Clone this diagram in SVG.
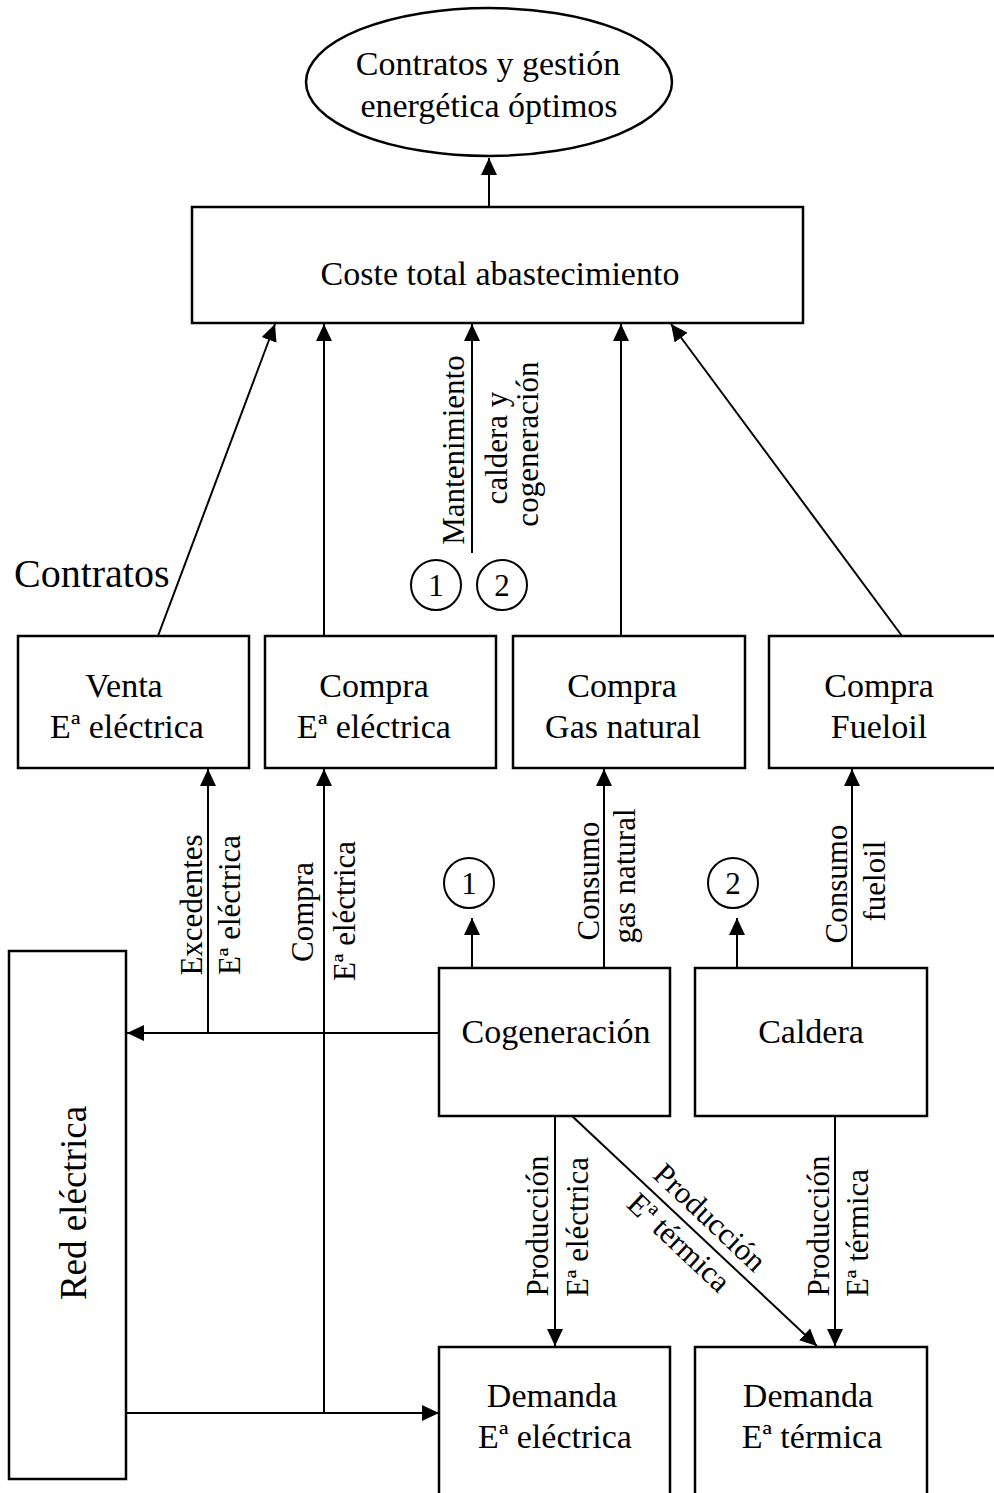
<svg xmlns="http://www.w3.org/2000/svg" width="994" height="1493" viewBox="0 0 994 1493">
<style>
text{font-family:"Liberation Serif","Times New Roman",serif;fill:#000}
.n{font-size:34px;text-anchor:middle}
.l{font-size:31px;text-anchor:middle}
.box{fill:#fff;stroke:#000;stroke-width:2.5}
.c{stroke:#000;stroke-width:2;fill:none}
.a{marker-end:url(#ah)}
</style>
<defs>
<marker id="ah" markerUnits="userSpaceOnUse" markerWidth="17" markerHeight="16" refX="17" refY="8" orient="auto">
<path d="M0,0 L17,8 L0,16 z" fill="#000"/>
</marker>
</defs>
<rect width="994" height="1493" fill="#fff"/>

<g id="connectors">
<line class="c a" x1="489" y1="207" x2="489" y2="158"/>
<line class="c a" x1="158" y1="636" x2="275" y2="324"/>
<line class="c a" x1="324" y1="636" x2="324" y2="324"/>
<line class="c a" x1="472" y1="553" x2="472" y2="324"/>
<line class="c a" x1="621" y1="636" x2="621" y2="324"/>
<line class="c a" x1="902" y1="636" x2="671" y2="324"/>
<line class="c a" x1="208" y1="1033" x2="208" y2="769"/>
<line class="c a" x1="324" y1="1413" x2="324" y2="769"/>
<line class="c a" x1="438" y1="1033" x2="127" y2="1033"/>
<line class="c a" x1="472" y1="968" x2="472" y2="918"/>
<line class="c a" x1="604" y1="968" x2="604" y2="769"/>
<line class="c a" x1="737" y1="968" x2="737" y2="918"/>
<line class="c a" x1="852" y1="968" x2="852" y2="769"/>
<line class="c a" x1="555" y1="1116" x2="555" y2="1346"/>
<line class="c a" x1="572" y1="1116" x2="817" y2="1346"/>
<line class="c a" x1="835" y1="1116" x2="835" y2="1346"/>
<line class="c a" x1="126" y1="1413" x2="439" y2="1413"/>
</g>

<g id="labels">
<text class="l" transform="rotate(-90 464 450)" x="464" y="450">Mantenimiento</text>
<text class="l" transform="rotate(-90 507 448)" x="507" y="448">caldera y</text>
<text class="l" transform="rotate(-90 538 444)" x="538" y="444">cogeneración</text>
<text class="l" transform="rotate(-90 202 905)" x="202" y="905">Excedentes</text>
<text class="l" transform="rotate(-90 240 905)" x="240" y="905">Eª eléctrica</text>
<text class="l" transform="rotate(-90 313 912)" x="313" y="912">Compra</text>
<text class="l" transform="rotate(-90 355 911)" x="355" y="911">Eª eléctrica</text>
<text class="l" transform="rotate(-90 599 881)" x="599" y="881">Consumo</text>
<text class="l" transform="rotate(-90 635 876)" x="635" y="876">gas natural</text>
<text class="l" transform="rotate(-90 847 884)" x="847" y="884">Consumo</text>
<text class="l" transform="rotate(-90 885 881)" x="885" y="881">fueloil</text>
<text class="l" transform="rotate(-90 548 1226)" x="548" y="1226">Producción</text>
<text class="l" transform="rotate(-90 588 1227)" x="588" y="1227">Eª eléctrica</text>
<text class="l" transform="rotate(-90 829 1226)" x="829" y="1226">Producción</text>
<text class="l" transform="rotate(-90 868 1233)" x="868" y="1233">Eª térmica</text>
<text class="l" transform="rotate(43.3 703 1225)" x="703" y="1225">Producción</text>
<text class="l" transform="rotate(43.3 672 1250)" x="672" y="1250">Eª térmica</text>
<text x="14" y="587" style="font-size:40px">Contratos</text>
</g>

<g id="circ1a"><circle cx="436" cy="585" r="25" class="c"/><text class="l" x="436" y="596">1</text></g>
<g id="circ2a"><circle cx="502" cy="585" r="25" class="c"/><text class="l" x="502" y="596">2</text></g>
<g id="circ1b"><circle cx="469" cy="883" r="25" class="c"/><text class="l" x="469" y="894">1</text></g>
<g id="circ2b"><circle cx="733" cy="883" r="25" class="c"/><text class="l" x="733" y="894">2</text></g>

<g id="objetivo">
<ellipse cx="489" cy="82" rx="183" ry="74" class="box"/>
<text class="n" x="488" y="75">Contratos y gestión</text>
<text class="n" x="489" y="117">energética óptimos</text>
</g>
<g id="coste">
<rect x="192" y="207" width="611" height="116" class="box"/>
<text class="n" x="500" y="285">Coste total abastecimiento</text>
</g>
<g id="venta">
<rect x="18" y="636" width="231" height="132" class="box"/>
<text class="n" x="124" y="697">Venta</text>
<text class="n" x="127" y="738">Eª eléctrica</text>
</g>
<g id="compra-e">
<rect x="265" y="636" width="231" height="132" class="box"/>
<text class="n" x="374" y="697">Compra</text>
<text class="n" x="374" y="738">Eª eléctrica</text>
</g>
<g id="compra-gas">
<rect x="513" y="636" width="232" height="132" class="box"/>
<text class="n" x="622" y="697">Compra</text>
<text class="n" x="623" y="738">Gas natural</text>
</g>
<g id="compra-fuel">
<rect x="769" y="636" width="232" height="132" class="box"/>
<text class="n" x="879" y="697">Compra</text>
<text class="n" x="879" y="738">Fueloil</text>
</g>
<g id="red">
<rect x="9" y="951" width="117" height="528" class="box"/>
<text transform="rotate(-90 86 1203)" x="86" y="1203" style="font-size:37px;text-anchor:middle">Red eléctrica</text>
</g>
<g id="cogeneracion">
<rect x="439" y="968" width="231" height="148" class="box"/>
<text class="n" x="556" y="1043">Cogeneración</text>
</g>
<g id="caldera">
<rect x="695" y="968" width="232" height="148" class="box"/>
<text class="n" x="811" y="1043">Caldera</text>
</g>
<g id="demanda-e">
<rect x="439" y="1347" width="231" height="160" class="box"/>
<text class="n" x="552" y="1407">Demanda</text>
<text class="n" x="555" y="1448">Eª eléctrica</text>
</g>
<g id="demanda-t">
<rect x="695" y="1347" width="232" height="160" class="box"/>
<text class="n" x="808" y="1407">Demanda</text>
<text class="n" x="812" y="1448">Eª térmica</text>
</g>
</svg>
